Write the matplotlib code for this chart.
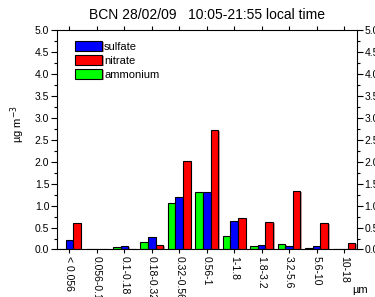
import numpy as np
import matplotlib
matplotlib.use("Agg")
from matplotlib import pyplot as plt
from matplotlib import patheffects as pe
from matplotlib.ticker import MultipleLocator

plt.rcParams['font.family'] = ['Liberation Sans', 'DejaVu Sans']

sizes = ["< 0.056", "0.056-0.1", "0.1-0.18", "0.18-0.32", "0.32-0.56", "0.56-1",
         "1-1.8", "1.8-3.2", "3.2-5.6", "5.6-10", "10-18"]
sulfate = [0.21, 0.01, 0.08, 0.28, 1.19, 1.30, 0.65, 0.10, 0.08, 0.08, 0.01]
nitrate = [0.60, 0.02, 0.02, 0.10, 2.01, 2.72, 0.72, 0.62, 1.33, 0.60, 0.14]
ammonium = [0.0, 0.0, 0.05, 0.18, 1.07, 1.30, 0.31, 0.08, 0.12, 0.03, 0.0]

fig = plt.figure(figsize=(3.75, 2.97), dpi=100)
ax = fig.add_axes([0.152, 0.16, 0.8, 0.739])

x = np.arange(len(sizes))
w = 0.275
shadow = [pe.SimplePatchShadow(offset=(1.2, -0.8), shadow_rgbFace='#800000', alpha=0.4), pe.Normal()]
b_amm = ax.bar(x - w, ammonium, w, color='#00ff00', edgecolor='black', linewidth=0.8, label='ammonium')
b_sul = ax.bar(x, sulfate, w, color='#0000ff', edgecolor='black', linewidth=0.8, label='sulfate')
b_nit = ax.bar(x + w, nitrate, w, color='#ff0000', edgecolor='black', linewidth=0.8, label='nitrate')
for bars in (b_amm, b_sul, b_nit):
    for p in bars:
        p.set_path_effects(shadow)

ax.set_xlim(-0.45, 10.47)
ax.set_ylim(0, 5.0)
ax.yaxis.set_major_locator(MultipleLocator(0.5))
ax.yaxis.set_minor_locator(MultipleLocator(0.25))
ax.tick_params(axis='y', which='both', direction='out', left=True, right=True,
               labelleft=True, labelright=True, labelsize=7.5, width=0.8, pad=1.5)
ax.tick_params(axis='y', which='major', length=4)
ax.tick_params(axis='y', which='minor', length=2.2)
ax.set_yticks(np.arange(0, 5.01, 0.5))
ax.set_yticklabels(["%.1f" % v for v in np.arange(0, 5.01, 0.5)])

ax.set_xticks(x)
ax.set_xticklabels(sizes, rotation=-90, fontsize=7.5, va='top', ha='center')
ax.tick_params(axis='x', which='major', direction='out', length=3, top=True, width=0.8, pad=2)
for sp in ax.spines.values():
    sp.set_linewidth(0.8)

ax.set_ylabel("µg m$^{-3}$", fontsize=8)
ax.yaxis.set_label_coords(-0.10, 0.572)
fig.text(0.96, 0.015, "µm", fontsize=8, ha='center')
fig.text(0.553, 0.935, "BCN 28/02/09   10:05-21:55 local time", fontsize=10, ha='center')

h, l = ax.get_legend_handles_labels()
ax.legend([h[1], h[2], h[0]], [l[1], l[2], l[0]], loc='upper left', frameon=False,
          fontsize=8, handlelength=2.4, handleheight=0.95, handletextpad=0.2,
          labelspacing=0.3, borderaxespad=0.3, bbox_to_anchor=(0.035, 0.985))

fig.savefig("out.png", dpi=100)
